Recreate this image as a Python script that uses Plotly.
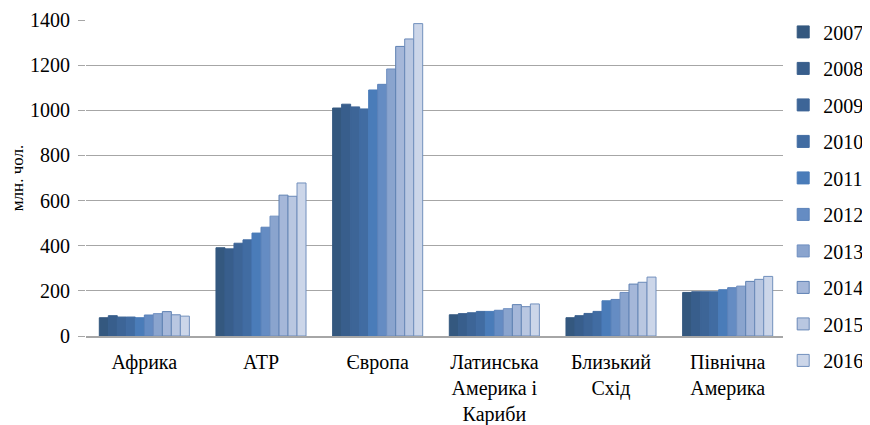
import plotly.graph_objects as go

categories = ["Африка", "АТР", "Європа", "Латинська<br>Америка і<br>Кариби", "Близький<br>Схід", "Північна<br>Америка"]
years = ["2007", "2008", "2009", "2010", "2011", "2012", "2013", "2014", "2015", "2016"]

africa = [81, 90, 84, 84, 81, 93, 99, 108, 94, 88]
apac = [391, 386, 411, 426, 456, 482, 531, 624, 619, 678]
europe = [1010, 1027, 1015, 1006, 1090, 1115, 1183, 1283, 1316, 1384]
latam = [94, 99, 103, 109, 109, 114, 121, 139, 130, 142]
mideast = [81, 90, 100, 109, 156, 162, 193, 230, 238, 261]
namerica = [193, 196, 196, 196, 205, 214, 221, 242, 251, 264]

colors = ["#34587F", "#385E8C", "#3D6597", "#416CA2", "#4A7CB9", "#658CC3",
          "#8AA4CE", "#A5B7D9", "#B9C7E1", "#CCD6E9"]
edges = ["#34587F", "#385E8C", "#3D6597", "#416CA2", "#4A7CB9", "#5B81B8",
         "#6F8FC0", "#5E80B2", "#6A89B8", "#7290BD"]

regions = [africa, apac, europe, latam, mideast, namerica]

SERIF = "Times New Roman"

fig = go.Figure()
for i, y in enumerate(years):
    fig.add_trace(go.Bar(
        name=y, x=categories, y=[r[i] for r in regions],
        marker=dict(color=colors[i], line=dict(color=edges[i], width=1)),
        legendgroup=y,
    ))

fig.update_layout(
    width=870, height=425,
    margin=dict(l=78, r=92, t=12, b=97, autoexpand=False),
    barmode="group", bargap=0.228, bargroupgap=0,
    plot_bgcolor="white", paper_bgcolor="white",
    font=dict(family=SERIF, size=20, color="black"),
    legend=dict(x=0.996, xanchor="left", y=1.024, yanchor="top", maxheight=1000,
                font=dict(family=SERIF, size=20, color="black"),
                tracegroupgap=7.5, traceorder="grouped", itemwidth=30),
    yaxis=dict(range=[0, 1400], dtick=200, showgrid=True, gridcolor="#A6A6A6",
               gridwidth=1, ticks="outside", ticklen=7, tickcolor="#A6A6A6",
               ticklabelstandoff=4,
               zeroline=False, showline=False, automargin=False,
               tickfont=dict(family=SERIF, size=20, color="black"),
               title=dict(text="млн. чол.", font=dict(family=SERIF, size=17, color="black"), standoff=16)),
    xaxis=dict(showline=True, linecolor="#A6A6A6", linewidth=1.5, ticks="",
               automargin=False, ticklabelstandoff=7,
               tickfont=dict(family=SERIF, size=20, color="black")),
)

fig.write_html("out.html")
